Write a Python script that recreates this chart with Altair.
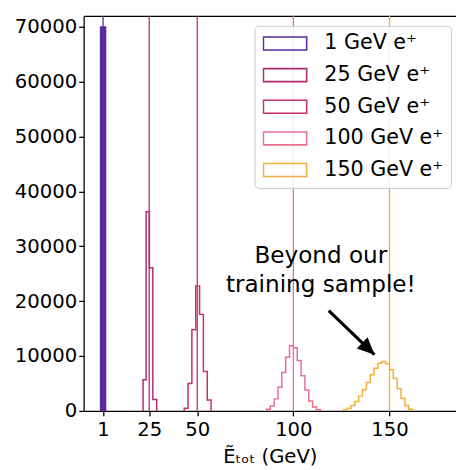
import altair as alt
import pandas as pd

# ---------------- data ----------------
labels = ["1 GeV e⁺", "25 GeV e⁺", "50 GeV e⁺", "100 GeV e⁺", "150 GeV e⁺"]
true_energy = [1, 25, 50, 100, 150]
colors = ["#5b2ba0", "#b02a72", "#c8305f", "#e8708c", "#f6ae3a"]

edges_1 = [-0.3, 2.3]
counts_1 = [70000]

edges_25 = [21.8, 23.4, 25.1, 26.9, 28.9]
counts_25 = [5700, 36300, 26100, 2100]

edges_50 = [43.2, 45.2, 47.2, 49.2, 51.2, 53.2, 55.2, 57.2]
counts_50 = [500, 5000, 14800, 22800, 17600, 7200, 2000]

edges_100 = [86, 88, 90, 92, 94, 96, 98, 100, 102, 104, 106, 108, 110, 112, 114]
counts_100 = [300, 900, 2200, 4300, 7000, 9800, 11900, 11500, 9200, 6400, 3800, 1800, 700, 200]

edges_150 = [126, 128, 130, 132, 134, 136, 138, 140, 142, 144, 146, 148, 150,
             152, 154, 156, 158, 160, 162]
counts_150 = [200, 500, 1000, 1700, 2700, 3900, 5200, 6600, 7800, 8700, 9000,
              8600, 7500, 5900, 4100, 2300, 1000, 300]

annot_lines = ["Beyond our", "training sample!"]
annot_x = [114.3, 114.3]
annot_y = [27000, 21650]

arrow_from = (118.4, 18300)
arrow_to = (142.2, 10250)

x_ticks = [1, 25, 50, 100, 150]
y_ticks = [0, 10000, 20000, 30000, 40000, 50000, 60000, 70000]

# ---------------- tables ----------------
all_edges = [edges_1, edges_25, edges_50, edges_100, edges_150]
all_counts = [counts_1, counts_25, counts_50, counts_100, counts_150]

rows = []
for lab, ed, ct in zip(labels, all_edges, all_counts):
    pts = [(ed[0], 0)] + list(zip(ed[:-1], ct)) + [(ed[-1], 0)]
    for i, (xv, yv) in enumerate(pts):
        rows.append({"series": lab, "E": xv, "N": yv, "order": i})
step_df = pd.DataFrame(rows)

bar_df = pd.DataFrame({"E0": [edges_1[0]], "E1": [edges_1[1]], "N": [counts_1[0]]})
rule_df = pd.DataFrame({"series": labels, "E": true_energy})
text_df = pd.DataFrame({"t": annot_lines, "E": annot_x, "N": annot_y})
arrow_df = pd.DataFrame({"E": [arrow_from[0]], "N": [arrow_from[1]],
                         "E2": [arrow_to[0]], "N2": [arrow_to[1]]})

xdom = [-9.1, 184.6]
ydom = [0, 72000]

xscale = alt.Scale(domain=xdom, nice=False, zero=False)
yscale = alt.Scale(domain=ydom, nice=False)

color_enc = alt.Color(
    "series:N",
    scale=alt.Scale(domain=labels, range=colors),
    legend=alt.Legend(
        title=None, orient="none", legendX=174, legendY=10,
        symbolType="M-1,-0.3H1V0.3H-1Z", symbolSize=1936,
        symbolStrokeWidth=1.6, symbolFillColor="transparent",
        labelFontSize=21, labelFont="DejaVu Sans", labelColor="black",
        labelOffset=17, padding=8, rowPadding=11.2, clipHeight=20,
        fillColor="rgba(255,255,255,0.85)", strokeColor="#cccccc",
        cornerRadius=4,
    ),
)

x_axis = alt.Axis(values=x_ticks, title="Ẽₜₒₜ (GeV)", grid=False, tickSize=5,
                  labelFontSize=20, titleFontSize=20, titleFontWeight="normal",
                  labelPadding=4, titlePadding=7, domainColor="black",
                  tickColor="black", labelColor="black", titleColor="black",
                  domainWidth=1.3, tickWidth=1.3, labelFlush=False)
y_axis = alt.Axis(values=y_ticks, format="d", title=None, grid=False, tickSize=5,
                  labelFontSize=20, labelPadding=2, domainColor="black",
                  tickColor="black", labelColor="black", domainWidth=1.3,
                  tickWidth=1.3)
top_axis = alt.Axis(orient="top", labels=False, ticks=False, title=None,
                    grid=False, domainColor="black", domainWidth=1.3)

rules = alt.Chart(rule_df).mark_rule(strokeWidth=1.3).encode(
    x=alt.X("E:Q", scale=xscale, axis=x_axis),
    color=color_enc,
)

frame_top = alt.Chart(rule_df).mark_rule(opacity=0).encode(
    x=alt.X("E:Q", scale=xscale, axis=top_axis),
)

bar = alt.Chart(bar_df).mark_rect(color=colors[0]).encode(
    x=alt.X("E0:Q", scale=xscale, axis=None),
    x2="E1:Q",
    y=alt.Y("N:Q", scale=yscale, axis=y_axis),
    y2=alt.datum(0),
)

steps = alt.Chart(step_df).mark_line(interpolate="step-after", strokeWidth=1.5).encode(
    x=alt.X("E:Q", scale=xscale, axis=None),
    y=alt.Y("N:Q", scale=yscale),
    order="order:Q",
    color=color_enc,
)

text = alt.Chart(text_df).mark_text(font="DejaVu Sans", fontSize=23.5, align="center",
                                    baseline="alphabetic", color="black").encode(
    x=alt.X("E:Q", scale=xscale, axis=None),
    y=alt.Y("N:Q", scale=yscale),
    text="t:N",
)

shaft = alt.Chart(arrow_df).mark_rule(strokeWidth=3.2, color="black").encode(
    x=alt.X("E:Q", scale=xscale, axis=None),
    y=alt.Y("N:Q", scale=yscale),
    x2="E2:Q",
    y2="N2:Q",
)

head = alt.Chart(arrow_df).mark_point(shape="M0,0L-0.5,1.1L0.5,1.1Z", filled=True,
                                      color="black", opacity=1, size=1000,
                                      angle=134).encode(
    x=alt.X("E2:Q", scale=xscale, axis=None),
    y=alt.Y("N2:Q", scale=yscale),
)

chart = alt.layer(rules, frame_top, bar, steps, text, shaft, head).resolve_axis(
    x="independent"
).properties(
    width=379, height=402,
    autosize=alt.AutoSizeParams(type="none"),
    padding={"left": 77, "top": 4, "right": 0, "bottom": 56},
).configure(font="DejaVu Sans").configure_view(stroke=None)

chart.save("out.html", embed_options={"renderer": "svg", "actions": False})
